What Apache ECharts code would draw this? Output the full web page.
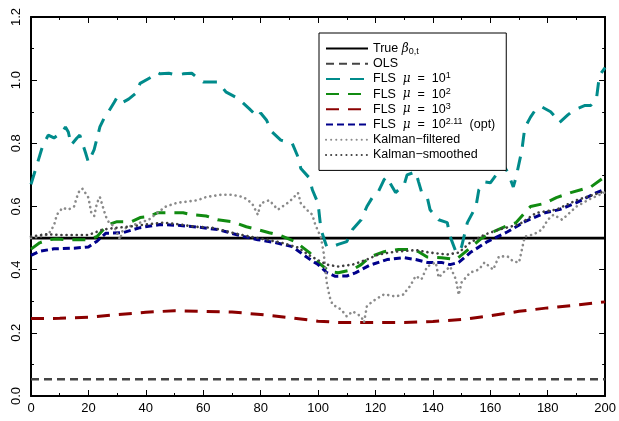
<!DOCTYPE html>
<html>
<head>
<meta charset="utf-8">
<script src="https://cdn.jsdelivr.net/npm/echarts@6/dist/echarts.min.js"></script>
<style>
html,body{margin:0;padding:0;background:#fff;}
#main{width:619px;height:421px;}
</style>
</head>
<body>
<div id="main"></div>
<script>
var seriesNames = ['True β0,t', 'OLS', 'FLS μ=10^1', 'FLS μ=10^2', 'FLS μ=10^3', 'FLS μ=10^2.11 (opt)', 'Kalman-filtered', 'Kalman-smoothed'];
var xTicks = [0, 200, 20];
var yTicks = [0, 1.2, 0.2];

var trueBeta = [[0, 0.5], [200, 0.5]];
var ols = [[0, 0.053], [200, 0.053]];

var fls1 = [[0,0.67],[2,0.73],[4,0.79],[6,0.826],[8,0.817],[11,0.836],[12,0.852],[13,0.836],[14,0.795],[16,0.817],[17,0.826],
  [19,0.77],[20,0.74],[22,0.78],[24,0.852],[26,0.89],[27,0.9],[29,0.93],[30,0.946],[32,0.93],[34,0.94],[37,0.962],[38,0.99],
  [42,1.01],[44,1.025],[45,1.02],[48,1.022],[51,1.016],[53,1.02],[56,1.022],[59,1.0],[60,0.994],[65,0.994],[68,0.962],[72,0.943],
  [76,0.91],[79,0.883],[80,0.896],[82,0.874],[84,0.836],[87,0.81],[91,0.8],[93,0.757],[94,0.72],[97,0.69],[98,0.653],[100,0.61],
  [101,0.527],[103,0.473],[105,0.473],[107,0.48],[110,0.489],[112,0.527],[115,0.558],[117,0.6],[119,0.63],[121,0.647],[123,0.685],
  [124,0.694],[125,0.675],[127,0.644],[130,0.669],[131,0.7],[134,0.71],[135,0.678],[136,0.647],[138,0.63],[139,0.59],[142,0.558],
  [145,0.549],[146,0.505],[148,0.457],[149,0.454],[150,0.473],[152,0.549],[155,0.6],[156,0.653],[158,0.678],[160,0.675],[162,0.7],
  [164,0.738],[166,0.71],[168,0.662],[169,0.694],[171,0.779],[172,0.849],[174,0.883],[176,0.91],[178,0.915],[181,0.9],[183,0.88],
  [184,0.865],[187,0.89],[189,0.905],[193,0.92],[195,0.92],[197,0.943],[198,1.015],[200,1.04]];

var fls2 = [[0,0.465],[3,0.485],[6,0.495],[9,0.497],[13,0.495],[17,0.495],[20,0.495],[23,0.505],[25,0.525],[27,0.543],[30,0.552],
  [35,0.552],[38,0.565],[41,0.568],[44,0.58],[48,0.58],[53,0.58],[56,0.574],[61,0.57],[65,0.558],[70,0.552],[75,0.536],[79,0.527],
  [83,0.517],[87,0.508],[92,0.489],[97,0.454],[100,0.423],[104,0.394],[107,0.39],[112,0.4],[115,0.416],[118,0.44],[123,0.457],
  [128,0.464],[132,0.464],[135,0.457],[138,0.44],[143,0.438],[148,0.432],[151,0.454],[157,0.5],[161,0.52],[166,0.54],[169,0.549],
  [172,0.58],[174,0.6],[179,0.61],[183,0.628],[188,0.644],[195,0.662],[200,0.695]];

var fls3 = [[0,0.245],[10,0.246],[20,0.249],[30,0.258],[40,0.265],[50,0.27],[60,0.268],[70,0.266],[80,0.258],[90,0.248],
  [100,0.237],[107,0.233],[120,0.233],[130,0.233],[140,0.236],[150,0.242],[160,0.254],[170,0.268],[180,0.279],[190,0.288],[200,0.298]];

var flsOpt = [[0,0.445],[3,0.458],[8,0.466],[15,0.468],[20,0.472],[23,0.49],[26,0.515],[32,0.517],[38,0.533],[45,0.543],[52,0.54],
  [60,0.533],[65,0.527],[68,0.52],[74,0.505],[79,0.495],[85,0.486],[91,0.473],[96,0.44],[100,0.416],[103,0.391],[106,0.379],
  [110,0.38],[113,0.39],[118,0.414],[124,0.432],[130,0.438],[134,0.432],[138,0.423],[143,0.423],[146,0.416],[149,0.423],
  [153,0.454],[159,0.489],[166,0.52],[172,0.552],[179,0.58],[184,0.59],[190,0.612],[197,0.644],[200,0.655]];

var kalmanFilt = [[0,0.5],[3,0.505],[6,0.511],[8,0.54],[9,0.574],[11,0.596],[13,0.59],[15,0.6],[16,0.63],[17,0.653],[18,0.656],
  [20,0.628],[21,0.58],[22,0.57],[23,0.612],[24,0.63],[25,0.6],[26,0.57],[27,0.552],[29,0.536],[31,0.495],[32,0.527],[34,0.536],
  [38,0.549],[41,0.558],[44,0.58],[47,0.6],[51,0.612],[54,0.615],[58,0.62],[61,0.63],[66,0.637],[70,0.637],[74,0.63],[77,0.61],
  [79,0.574],[80,0.61],[83,0.62],[86,0.59],[90,0.615],[93,0.643],[94,0.61],[96,0.59],[98,0.574],[99,0.543],[101,0.502],[102,0.45],
  [103,0.36],[104,0.315],[105,0.29],[108,0.274],[110,0.252],[112,0.268],[115,0.252],[116,0.233],[117,0.284],[119,0.3],[123,0.322],
  [127,0.315],[130,0.322],[131,0.338],[132,0.347],[134,0.38],[136,0.369],[138,0.41],[141,0.423],[142,0.375],[144,0.394],[146,0.41],
  [148,0.369],[149,0.32],[150,0.36],[153,0.391],[156,0.4],[158,0.423],[161,0.4],[163,0.442],[166,0.442],[168,0.426],[170,0.423],
  [171,0.464],[172,0.505],[175,0.511],[178,0.527],[180,0.558],[182,0.574],[185,0.558],[190,0.6],[195,0.625],[200,0.645]];

var kalmanSmooth = [[0,0.505],[5,0.512],[10,0.51],[15,0.51],[20,0.51],[25,0.527],[30,0.533],[34,0.536],[40,0.543],[46,0.549],
  [52,0.543],[57,0.536],[63,0.533],[68,0.522],[70,0.517],[76,0.505],[82,0.495],[87,0.486],[93,0.47],[97,0.445],[100,0.43],
  [103,0.416],[107,0.41],[112,0.416],[117,0.432],[121,0.448],[127,0.457],[134,0.462],[139,0.454],[145,0.448],[149,0.454],
  [153,0.486],[158,0.511],[163,0.527],[170,0.543],[176,0.58],[183,0.59],[190,0.62],[198,0.643],[200,0.648]];

var seriesData = [trueBeta, ols, fls1, fls2, fls3, flsOpt, kalmanFilt, kalmanSmooth];
var colorList = ['#000000', '#444444', '#008b8b', '#118b11', '#8b0000', '#00008b', '#8a8a8a', '#404040'];
var dashList = ['solid', [8, 5], [14, 10], [13, 9], [13, 9], [7, 4], [0.1, 5], [0.1, 5]];
var widthList = [2.6, 2.6, 3, 3, 3, 3, 2.6, 2.6];

var legendLabels = {
  'True β0,t': 'True {i|β}{sub|0,t}',
  'OLS': 'OLS',
  'FLS μ=10^1': 'FLS  {i|μ}  =  10{sup|1}',
  'FLS μ=10^2': 'FLS  {i|μ}  =  10{sup|2}',
  'FLS μ=10^3': 'FLS  {i|μ}  =  10{sup|3}',
  'FLS μ=10^2.11 (opt)': 'FLS  {i|μ}  =  10{sup|2.11}  (opt)',
  'Kalman-filtered': 'Kalman\u2212filtered',
  'Kalman-smoothed': 'Kalman\u2212smoothed'
};

var font = 'Liberation Sans';
var chart = echarts.init(document.getElementById('main'));

var series = [];
for (var k = 0; k < seriesNames.length; k++) {
  series.push({
    name: seriesNames[k],
    type: 'line',
    data: seriesData[k],
    showSymbol: false,
    symbol: 'none',
    animation: false,
    lineStyle: {
      color: colorList[k],
      width: widthList[k],
      type: dashList[k],
      cap: k >= 6 ? 'round' : 'butt'
    },
    itemStyle: { color: colorList[k] }
  });
}

var tickStyle = { inside: true, length: 6, lineStyle: { color: '#000', width: 1 } };
var minorStyle = { show: true, splitNumber: 2, length: 3, lineStyle: { color: '#000', width: 1 } };
var frameLine = { show: true, onZero: false, lineStyle: { color: '#000', width: 2 } };

var option = {
  backgroundColor: '#fff',
  grid: { left: 31, right: 11, top: 17, bottom: 25 },
  legend: {
    orient: 'vertical',
    left: 319,
    top: 33,
    data: seriesNames,
    itemWidth: 42,
    itemHeight: 10,
    itemGap: 0.2,
    padding: [8, 11, 8, 6],
    borderColor: '#000',
    borderWidth: 1,
    backgroundColor: '#fff',
    itemStyle: { opacity: 0 },
    formatter: function (name) { return legendLabels[name]; },
    textStyle: {
      fontFamily: font,
      fontSize: 12.5,
      lineHeight: 15,
      color: '#000',
      rich: {
        i: { fontFamily: 'DejaVu Serif', fontStyle: 'italic', fontSize: 12, lineHeight: 15 },
        sup: { fontSize: 9, verticalAlign: 'top', lineHeight: 8 },
        sub: { fontSize: 9, verticalAlign: 'bottom', lineHeight: 8 }
      }
    }
  },
  xAxis: [{
    type: 'value',
    min: xTicks[0], max: xTicks[1], interval: xTicks[2],
    axisLine: frameLine,
    axisTick: tickStyle,
    minorTick: minorStyle,
    splitLine: { show: false },
    axisLabel: { color: '#000', fontFamily: font, fontSize: 13, margin: 6 }
  }, {
    type: 'value', position: 'top',
    min: xTicks[0], max: xTicks[1], interval: xTicks[2],
    axisLine: frameLine,
    axisTick: tickStyle,
    minorTick: minorStyle,
    splitLine: { show: false },
    axisLabel: { show: false }
  }],
  yAxis: [{
    type: 'value',
    min: yTicks[0], max: yTicks[1], interval: yTicks[2],
    axisLine: frameLine,
    axisTick: tickStyle,
    minorTick: minorStyle,
    splitLine: { show: false },
    axisLabel: {
      color: '#000', fontFamily: font, fontSize: 13, rotate: 90, margin: 8,
      formatter: function (v) { return v.toFixed(1); }
    }
  }, {
    type: 'value', position: 'right',
    min: yTicks[0], max: yTicks[1], interval: yTicks[2],
    axisLine: frameLine,
    axisTick: tickStyle,
    minorTick: minorStyle,
    splitLine: { show: false },
    axisLabel: { show: false }
  }],
  series: series
};
chart.setOption(option);
</script>
</body>
</html>
